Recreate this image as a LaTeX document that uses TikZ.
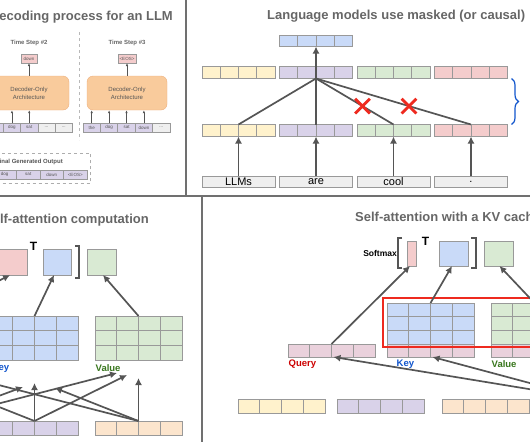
\documentclass[tikz,border=0pt]{standalone}
\usepackage{fontspec}
\setmainfont{Liberation Sans}
\usetikzlibrary{arrows.meta,decorations.pathreplacing,shapes.misc,positioning}

\definecolor{ttl}{HTML}{666666}
\definecolor{edge}{HTML}{999999}
\definecolor{ink}{HTML}{555555}
\definecolor{rule}{HTML}{707070}
\definecolor{cyel}{HTML}{FFF2CC}
\definecolor{cpur}{HTML}{D9D2E9}
\definecolor{cgrn}{HTML}{D9EAD3}
\definecolor{cred}{HTML}{F4CCCC}
\definecolor{cblu}{HTML}{C9DAF8}
\definecolor{corg}{HTML}{FCE5CD}
\definecolor{cgry}{HTML}{EFEFEF}
\definecolor{cmau}{HTML}{EAD1DC}
\definecolor{dec}{HTML}{F9CB9C}
\definecolor{decline}{HTML}{EDB07E}
\definecolor{valg}{HTML}{38761D}
\definecolor{keyb}{HTML}{1155CC}
\definecolor{qred}{HTML}{CC0000}
\definecolor{xred}{HTML}{EE2A1F}

\tikzset{
  cell/.style={draw=edge, line width=0.8pt, inner sep=0pt, outer sep=0pt, anchor=north west},
  celltext/.style={font=\fontsize{4.5}{5}\selectfont, text=ink},
  paneltitle/.style={font=\bfseries\fontsize{13}{15}\selectfont, text=ttl, inner sep=0pt},
  steptitle/.style={font=\bfseries\fontsize{6}{7}\selectfont, text=ttl, inner sep=0pt},
  decoder/.style={draw=decline, fill=dec, rounded corners=6pt, minimum width=80pt, minimum height=34pt,
    align=center, font=\fontsize{6}{8}\selectfont, text=ink},
  tag/.style={font=\bfseries\fontsize{9.5}{11}\selectfont, inner sep=0pt, anchor=west},
  tmark/.style={font=\bfseries\fontsize{12}{14}\selectfont, inner sep=0pt},
  arr/.style={draw=ink, line width=1.7pt, -{Latex[length=7pt,width=7pt]}},
  smallarr/.style={draw=ink, line width=0.6pt, -{Latex[length=3pt,width=2.5pt]}},
  link/.style={draw=ink, line width=1.7pt},
  bracket/.style={draw=ink, line width=1.2pt},
  redx/.style={draw=xred, cross out, line width=2.8pt, minimum size=12pt, inner sep=0pt},
  divider/.style={draw=rule, line width=1.8pt}
}

\begin{document}
\begin{tikzpicture}[x=1pt, y=-1pt]
\useasboundingbox (0,0) rectangle (530,442);
\clip (0,0) rectangle (530,442);

\draw[divider] (186,0) -- (186,196);
\draw[divider] (0,196) -- (530,196);
\draw[divider] (202,196) -- (202,442);

% decoding
\node[paneltitle, anchor=east] (dtitle) at (173,17) {Decoding process for an LLM};
\node[steptitle] (step2) at (29,43) {Time Step \#2};
\node[steptitle] (step3) at (127,43) {Time Step \#3};
\node[cell, fill=cred, celltext, minimum width=16pt, minimum height=9pt] (out2) at (21,54) {down};
\node[cell, fill=cred, celltext, minimum width=18pt, minimum height=9pt] (out3) at (118,54) {<EOS>};
\node[decoder] (dec2) at (29,93) {Decoder-Only\\Architecture};
\node[decoder] (dec3) at (127,93) {Decoder-Only\\Architecture};
\foreach \w [count=\i] in {the,dog,sat}
  \node[cell, fill=cpur, celltext, minimum width=17.3pt, minimum height=9pt] (ta\i) at ({-14+(\i-1)*17.3},123) {\w};
\node[cell, fill=cgry, celltext, minimum width=17.3pt, minimum height=9pt, right=0pt of ta3.north east, anchor=north west] (ta4) {...};
\node[cell, fill=cgry, celltext, minimum width=17.3pt, minimum height=9pt, right=0pt of ta4.north east, anchor=north west] (ta5) {...};
\foreach \w [count=\i] in {the,dog,sat,down}
  \node[cell, fill=cpur, celltext, minimum width=17.4pt, minimum height=9pt] (tb\i) at ({83+(\i-1)*17.4},123) {\w};
\node[cell, fill=cgry, celltext, minimum width=17.4pt, minimum height=9pt, right=0pt of tb4.north east, anchor=north west] (tb5) {...};
\foreach \i in {1,2,3}
  \draw[smallarr] (ta\i.north) -- (ta\i.north |- dec2.south);
\foreach \i in {1,...,4}
  \draw[smallarr] (tb\i.north) -- (tb\i.north |- dec3.south);
\draw[smallarr] (dec2.north) -- (out2.south);
\draw[smallarr] (dec3.north) -- (out3.south);
\draw[draw=edge!70, dashed, line width=0.6pt] (79,32) -- (79,140);
\node[draw=edge!80, dashed, line width=0.6pt, anchor=north east, minimum width=130pt, minimum height=30pt] (final) at (91,153) {};
\node[steptitle, anchor=east, text=ink] (ftitle) at (63,162) {Final Generated Output};
\foreach \w [count=\i] in {the,dog,sat,down,<EOS>}
  \node[cell, fill=cpur, celltext, minimum width=23.5pt, minimum height=9pt] (fo\i) at ({-30.5+(\i-1)*23.5},170) {\w};

% masked attention
\node[paneltitle, anchor=west] (mtitle) at (267,16) {Language models use masked (or causal)};
\foreach \x/\c [count=\j] in {202/cyel,279.5/cpur,357/cgrn,434.5/cred}
  \foreach \i in {1,2,3,4} {
    \node[cell, fill=\c, minimum width=18.25pt, minimum height=12pt] (m\j\i) at ({\x+(\i-1)*18.25},66.5) {};
    \node[cell, fill=\c, minimum width=18.25pt, minimum height=12pt] (l\j\i) at ({\x+(\i-1)*18.25},124.5) {};
  }
\foreach \i in {1,2,3,4}
  \node[cell, fill=cblu, minimum width=18.25pt, minimum height=11.5pt] (o\i) at ({279.5+(\i-1)*18.25},35) {};
\foreach \w [count=\j] in {LLMs,are,cool,.}
  \node[cell, fill=cgry, minimum width=73pt, minimum height=11pt, font=\fontsize{11}{12}\selectfont] (w\j) at ({202+(\j-1)*77.5},176) {\w};
\foreach \j in {1,2,3,4} {
  \draw[arr] (w\j.north) -- (l\j2.south east);
  \draw[link] (m22.south east) -- (l\j2.north east);
}
\draw[arr] (m22.south east) -- (o2.south east);
\path (m22.south east) -- (l32.north east) coordinate[pos=0.6] (cut3);
\path (m22.south east) -- (l42.north east) coordinate[pos=0.6] (cut4);
\node[redx] (x3) at (cut3) {};
\node[redx] (x4) at (cut4) {};
\draw[decorate, decoration={brace, amplitude=7pt}, draw=keyb, line width=1.2pt]
  ([xshift=4pt]m44.south east) -- ([xshift=4pt]l44.north east);

% self-attention
\node[paneltitle, anchor=east] (atitle) at (149,220) {Self-attention computation};
\node[cell, fill=cred, minimum width=28pt, minimum height=26pt] (qa) at (-1,249) {};
\node[tmark] (tr1) at (33.5,246.5) {T};
\node[cell, fill=cblu, minimum width=28pt, minimum height=26pt] (ka) at (43,249) {};
\draw[bracket] (75,246) -- (79,246) -- (79,278) -- (75,278);
\node[cell, fill=cgrn, minimum width=29pt, minimum height=26pt] (va) at (87,249) {};
\foreach \r in {1,2,3}
  \foreach \c in {1,2,3,4} {
    \node[cell, fill=cblu, minimum width=21.75pt, minimum height=14.67pt] (kg\r\c) at ({-9+(\c-1)*21.75},{316+(\r-1)*14.67}) {};
    \node[cell, fill=cgrn, minimum width=21.75pt, minimum height=14.67pt] (vg\r\c) at ({95+(\c-1)*21.75},{316+(\r-1)*14.67}) {};
  }
\node[tag, text=keyb] (klab) at (-8.5,368) {Key};
\node[tag, text=valg] (vlab) at (95.5,368) {Value};
\foreach \c in {1,2,3,4} {
  \node[cell, fill=cpur, minimum width=21.75pt, minimum height=14pt] (pa\c) at ({-9+(\c-1)*21.75},421) {};
  \node[cell, fill=corg, minimum width=21.75pt, minimum height=14pt] (oa\c) at ({95+(\c-1)*21.75},421) {};
}
\coordinate (qg) at (-69,316);
\coordinate (ya) at (-69,421);
\coordinate (kin1) at (23,387);
\coordinate (kin2) at (34.5,383);
\coordinate (kin3) at (55,388);
\coordinate (vin1) at (117,373);
\coordinate (vin2) at (127,375);
\coordinate (vin3) at (138.5,378);
\coordinate (qin2) at (-49,388);
\coordinate (qin3) at (-48,373);
\draw[arr] (qg) -- ([xshift=-3pt]qa.south);
\draw[arr] (kg12.north east) -- ([xshift=-3pt]ka.south);
\draw[arr] (vg12.north east) -- ([xshift=1.5pt]va.south);
\draw[arr] (ya) -- (kin1);
\draw[arr] (ya) -- (vin1);
\draw[arr] (pa2.north east) -- (qin2);
\draw[arr] (pa2.north east) -- (kin2);
\draw[arr] (pa2.north east) -- (vin2);
\draw[arr] (oa2.north east) -- (qin3);
\draw[arr] (oa2.north east) -- (kin3);
\draw[arr] (oa2.north east) -- (vin3);

% kv cache
\node[paneltitle, anchor=west] (ctitle) at (355,217) {Self-attention with a KV cache};
\node[font=\bfseries\fontsize{8.5}{10}\selectfont, anchor=east, inner sep=0pt] (smax) at (397,253) {Softmax};
\draw[bracket] (402,238) -- (398,238) -- (398,268) -- (402,268);
\node[cell, fill=cred, minimum width=9pt, minimum height=25pt] (qc) at (407,241) {};
\node[tmark] (tr2) at (425.5,241.5) {T};
\node[cell, fill=cblu, minimum width=29pt, minimum height=25pt] (kc) at (439,241) {};
\draw[bracket] (471,238) -- (476,238) -- (476,268) -- (471,268);
\node[cell, fill=cgrn, minimum width=29pt, minimum height=25pt] (vc) at (484,241) {};
\foreach \r in {1,2,3}
  \foreach \c in {1,2,3,4} {
    \node[cell, fill=cblu, minimum width=21.75pt, minimum height=13.67pt] (kk\r\c) at ({387+(\c-1)*21.75},{303+(\r-1)*13.67}) {};
    \node[cell, fill=cgrn, minimum width=21.75pt, minimum height=13.67pt] (vv\r\c) at ({491+(\c-1)*21.75},{303+(\r-1)*13.67}) {};
  }
\foreach \c in {1,2,3,4} {
  \node[cell, fill=cmau, minimum width=21.75pt, minimum height=13pt] (qn\c) at ({288+(\c-1)*21.75},344) {};
  \node[cell, fill=cmau, minimum width=21.75pt, minimum height=13pt] (kn\c) at ({387+(\c-1)*21.75},344) {};
  \node[cell, fill=cmau, minimum width=21.75pt, minimum height=13pt] (vn\c) at ({491+(\c-1)*21.75},344) {};
  \node[cell, fill=cyel, minimum width=21.75pt, minimum height=14pt] (yb\c) at ({238+(\c-1)*21.75},399) {};
  \node[cell, fill=cpur, minimum width=21.75pt, minimum height=14pt] (pb\c) at ({337+(\c-1)*21.75},399) {};
  \node[cell, fill=corg, minimum width=21.75pt, minimum height=14pt] (ob\c) at ({442+(\c-1)*21.75},399) {};
}
\draw[draw=xred, line width=1.6pt] (383,298) rectangle (580,347);
\node[tag, text=qred] (qlab) at (288.5,364) {Query};
\node[tag, text=keyb] (klab2) at (396.5,364) {Key};
\node[tag, text=valg] (vlab2) at (491.5,364) {Value};
\draw[arr] (qn2.north east) -- ([xshift=-1.5pt]qc.south);
\draw[arr] (kk12.north east) -- ([xshift=-1.5pt]kc.south);
\draw[arr] (vv12.north east) -- ([xshift=1pt]vc.south);
\coordinate (newtok) at (589.5,399);
\draw[arr] (newtok) -- ([xshift=2pt]qn2.south east);
\draw[arr] (newtok) -- ([xshift=2pt]kn2.south east);
\end{tikzpicture}
\end{document}
